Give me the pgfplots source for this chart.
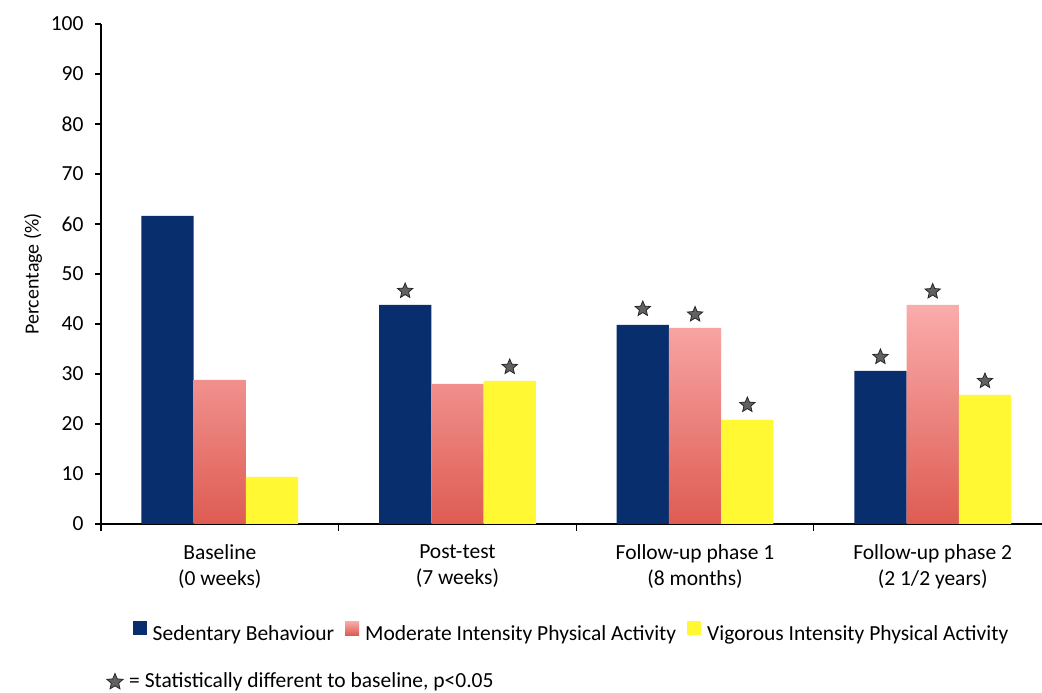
\documentclass[border=0pt]{standalone}
\usepackage{fontspec}
\setmainfont{Carlito}
\usepackage{pgfplots}
\pgfplotsset{compat=1.18}
\usetikzlibrary{shapes.geometric}

\definecolor{sedblue}{RGB}{8,46,110}
\definecolor{modtop}{RGB}{250,172,172}
\definecolor{modbot}{RGB}{222,92,82}
\definecolor{vigyel}{RGB}{255,248,51}

% filled five-point star for significance marks
\pgfdeclareplotmark{fstar}{%
  \pgfpathmoveto{\pgfpointpolar{90}{\pgfplotmarksize}}%
  \pgfpathlineto{\pgfpointpolar{126}{0.45\pgfplotmarksize}}%
  \pgfpathlineto{\pgfpointpolar{162}{\pgfplotmarksize}}%
  \pgfpathlineto{\pgfpointpolar{198}{0.45\pgfplotmarksize}}%
  \pgfpathlineto{\pgfpointpolar{234}{\pgfplotmarksize}}%
  \pgfpathlineto{\pgfpointpolar{270}{0.45\pgfplotmarksize}}%
  \pgfpathlineto{\pgfpointpolar{306}{\pgfplotmarksize}}%
  \pgfpathlineto{\pgfpointpolar{342}{0.45\pgfplotmarksize}}%
  \pgfpathlineto{\pgfpointpolar{18}{\pgfplotmarksize}}%
  \pgfpathlineto{\pgfpointpolar{54}{0.45\pgfplotmarksize}}%
  \pgfpathclose
  \pgfusepathqfillstroke
}

\newcommand{\chartfont}{\fontsize{21.5}{26}\selectfont}

\begin{document}
\begin{tikzpicture}
\begin{axis}[
    at={(0pt,0pt)}, anchor=south west,
    scale only axis, width=941pt, height=500pt,
    xmin=-0.5, xmax=3.46, ymin=0, ymax=100,
    axis lines=left,
    axis line style={-, black, line width=1.2pt},
    ytick={0,10,...,100},
    xtick={0,1,2,3},
    xticklabels={{Baseline\\(0 weeks)},{Post-test\\(7 weeks)},{Follow-up phase 1\\(8 months)},{Follow-up phase 2\\(2 1/2 years)}},
    minor xtick={-0.5,0.5,1.5,2.5},
    major x tick style={draw=none},
    tick align=outside,
    major tick length=6pt, minor tick length=7pt,
    tick style={black, line width=1.2pt},
    every tick label/.append style={font=\chartfont},
    xticklabel style={align=center, yshift=-11pt},
    yticklabel style={xshift=-8pt},
    /pgf/number format/assume math mode=true,
    ylabel={Percentage (\%)},
    every axis y label/.style={at={(axis description cs:0,0.5)}, xshift=-68pt,
        rotate=90, font=\fontsize{20}{24}\selectfont},
    legend style={at={(0.5,-0.19)}, anchor=north, draw=none, font=\chartfont,
        legend columns=3,
        /tikz/every odd column/.append style={column sep=4pt},
        /tikz/every even column/.append style={column sep=9pt}},
    legend cell align=left,
    legend image code/.code={\path[#1, draw=none] (0pt,-1pt) rectangle (14pt,13pt);},
]
\addplot[ybar, bar width=0.22, bar shift=-0.22, fill=sedblue, draw=none]
    coordinates {(0,61.6) (1,43.8) (2,39.8) (3,30.6)};
\addlegendentry{Sedentary Behaviour}
\addplot[ybar, bar width=0.22, bar shift=0, top color=modtop, bottom color=modbot, draw=none]
    coordinates {(0,28.8) (1,28.0) (2,39.2) (3,43.8)};
\addlegendentry{Moderate Intensity Physical Activity}
\addplot[ybar, bar width=0.22, bar shift=0.22, fill=vigyel, draw=none]
    coordinates {(0,9.4) (1,28.6) (2,20.8) (3,25.8)};
\addlegendentry{Vigorous Intensity Physical Activity}
\addplot[only marks, mark=fstar, mark size=8pt, forget plot,
    mark options={fill=black!62, draw=black!85, line width=0.8pt}]
    coordinates {(0.78,46.6) (1.22,31.4) (1.78,43.0) (2.0,41.9) (2.22,23.8)
                 (2.78,33.4) (3.0,46.5) (3.22,28.6)};
\end{axis}
\node[star, star points=5, star point ratio=2.2, fill=black!62, draw=black!85,
    line width=0.8pt, minimum size=17pt, inner sep=0pt] at (14pt,-158pt) {};
\node[anchor=base west, font=\chartfont, inner sep=0pt] at (28pt,-164pt)
    {= Statistically different to baseline, p<0.05};
\pgfresetboundingbox
\path (-101pt,-169pt) rectangle (941pt,524pt);
\end{tikzpicture}
\end{document}
